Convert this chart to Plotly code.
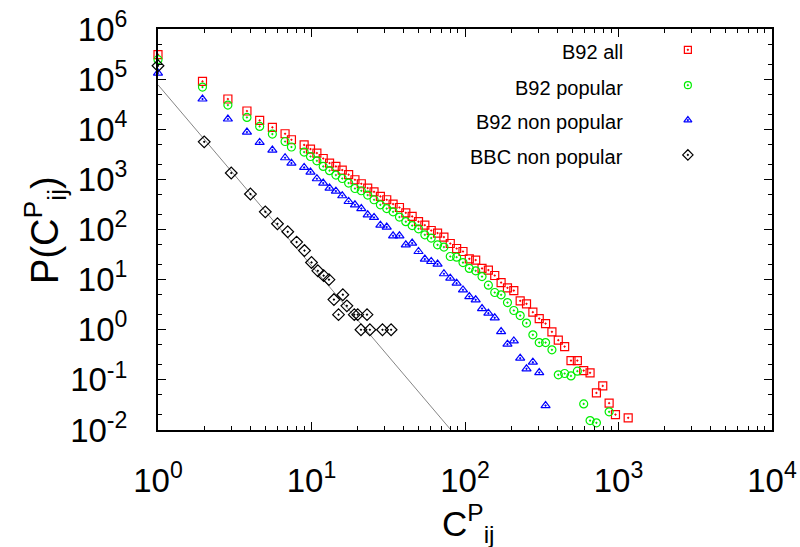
import plotly.graph_objects as go

# ---- data ----
x_b92 = [1, 1.949, 2.853, 3.797, 4.595, 5.560, 6.727, 7.400, 8.954, 9.850,
         10.84, 11.92, 13.11, 14.42, 15.86, 17.45, 19.19, 21.11, 23.23, 25.55,
         28.10, 30.91, 34.00, 37.40, 41.15, 45.26, 49.79, 54.76, 60.24, 66.26,
         72.89, 80.18, 88.20, 97.02, 106.7, 117.4, 129.1, 142.0, 156.2, 171.9,
         189.1, 208.0, 228.8, 251.6, 276.8, 304.5, 334.9, 368.4, 405.3, 445.8,
         490.4, 539.4, 593.4, 652.7, 718.0, 789.7, 868.7, 955.6, 1156.3]

y_all = [3.07e5, 9.0e4, 4.01e4, 2.31e4, 1.50e4, 1.09e4, 8130, 6170, 4860, 4030,
         3350, 2610, 2110, 1810, 1530, 1240, 982, 817, 670, 565,
         456, 392, 321, 275, 215, 182, 143, 122, 95.5, 84.7,
         70.5, 52.6, 41.8, 36.4, 26.0, 24.5, 16.7, 15.5, 12.1, 8.75,
         6.85, 6.05, 3.78, 3.29, 2.24, 1.67, 1.33, 0.908, 0.619, 0.462,
         0.243, 0.243, 0.153, 0.138, 0.0550, 0.0759, 0.0343, 0.0203, 0.0175]

x_pop = x_b92[:57]
y_pop = [2.44e5, 6.95e4, 3.04e4, 1.72e4, 1.14e4, 8020, 5700, 4420, 3510, 2860,
         2350, 1810, 1490, 1220, 1040, 843, 658, 593, 486, 392,
         311, 262, 225, 177, 143, 120, 103, 78.3, 67.3, 49.5,
         44.6, 28.9, 28.1, 21.9, 16.7, 15.0, 11.5, 7.76, 5.53, 4.98,
         3.49, 2.42, 1.92, 1.36, 0.791, 0.556, 0.556, 0.397, 0.126, 0.134,
         0.120, 0.149, 0.0332, 0.0154, 0.0139, None, 0.0230]

x_non = x_b92[:50]
y_non = [1.32e5, 4.01e4, 1.60e4, 8790, 5460, 3850, 2700, 2110, 1730, 1400,
         1030, 843, 670, 583, 471, 362, 311, 262, 196, 174,
         122, 112, 74.8, 74.8, 49.5, 53.6, 36.4, 25.7, 23.0, 20.4,
         13.1, 10.7, 8.51, 6.25, 4.60, 3.95, 2.65, 2.14, 1.73, 0.920,
         0.516, 0.600, 0.271, 0.166, 0.225, 0.140, 0.0307, None, None, None]

x_bbc = [1, 2, 3, 4, 5, 6, 7, 8, 9, 10, 11, 12, 13, 14, 15, 16, 17, 19, 20,
         21, 23, 24, 29, 33]
y_bbc = [1.85e5, 5600, 1340, 510, 225, 130, 90, 56, 38, 22, 15, 12, 10, 4, 2,
         5, 3, 2, 2, 1, 2, 1, 1, 1]

fit_x = [1, 81]
fit_y = [7.7e4, 1e-2]

names = ["B92 all", "B92 popular", "B92 non popular", "BBC non popular"]
colors = ["#ff0000", "#00ee00", "#0000ff", "#000000"]
symbols = ["square-open-dot", "circle-open-dot", "triangle-up-open-dot",
           "diamond-open-dot"]
sizes = [8, 8, 8, 9]

FONT = "Liberation Sans, Arial, Helvetica, sans-serif"

fig = go.Figure()

series = [(x_b92, y_all), (x_pop, y_pop), (x_non, y_non)]
for i, (xs, ys) in enumerate(series):
    fig.add_trace(go.Scatter(
        x=xs, y=ys, mode="markers", name=names[i], showlegend=False,
        cliponaxis=False,
        marker=dict(symbol=symbols[i], size=sizes[i], color=colors[i],
                    line=dict(width=1.2, color=colors[i]))))

fig.add_trace(go.Scatter(x=fit_x, y=fit_y, mode="lines", showlegend=False,
                         line=dict(color="#666666", width=0.8)))
fig.add_trace(go.Scatter(
    x=x_bbc, y=y_bbc, mode="markers", name=names[3], showlegend=False,
    cliponaxis=False,
    marker=dict(symbol=symbols[3], size=sizes[3], color=colors[3],
                line=dict(width=1.2, color=colors[3]))))

# manual legend (text left of symbol, as in the reference)
leg_y = [0.948, 0.860, 0.773, 0.686]
for i in range(4):
    fig.add_trace(go.Scatter(
        x=[0.863], y=[leg_y[i]], xaxis="x2", yaxis="y2", mode="markers",
        showlegend=False, cliponaxis=False, hoverinfo="skip",
        marker=dict(symbol=symbols[i], size=sizes[i] - 1, color=colors[i],
                    line=dict(width=1.2, color=colors[i]))))
    fig.add_annotation(x=0.760, y=leg_y[i] - 0.006, xref="paper", yref="paper",
                       text=names[i], showarrow=False, xanchor="right",
                       yanchor="middle",
                       font=dict(family=FONT, size=20, color="black"))

# axis titles
fig.add_annotation(x=0.505, y=-0.232, xref="paper", yref="paper",
                   text="C<sup>P</sup><sub>ij</sub>", showarrow=False,
                   xanchor="center", yanchor="middle",
                   font=dict(family=FONT, size=35, color="black"))
fig.add_annotation(x=-0.185, y=0.5, xref="paper", yref="paper",
                   text="P(C<sup>P</sup><sub>ij</sub>)", showarrow=False,
                   xanchor="center", yanchor="middle", textangle=-90,
                   font=dict(family=FONT, size=38, color="black"))

xt = [1, 10, 100, 1000, 10000]
xt_text = ["10<sup>0</sup>", "10<sup>1</sup>", "10<sup>2</sup>", "10<sup>3</sup>",
           "10<sup>4</sup>"]
yt = [1e-2, 1e-1, 1, 10, 100, 1e3, 1e4, 1e5, 1e6]
yt_text = ["10<sup>-2</sup>", "10<sup>-1</sup>", "10<sup>0</sup>", "10<sup>1</sup>",
           "10<sup>2</sup>", "10<sup>3</sup>", "10<sup>4</sup>", "10<sup>5</sup>",
           "10<sup>6</sup>"]

axis_common = dict(showgrid=False, zeroline=False, showline=True, linewidth=2,
                   linecolor="black", mirror="ticks", ticks="inside",
                   ticklen=8, tickwidth=1, tickcolor="black", automargin=False,
                   tickfont=dict(family=FONT, size=33, color="black"))

fig.update_layout(
    width=800, height=547,
    margin=dict(l=158, r=28, t=29, b=117),
    paper_bgcolor="white", plot_bgcolor="white",
    font=dict(family=FONT, color="black"),
    xaxis=dict(type="log", range=[0, 4], tickvals=xt, ticktext=xt_text,
               minor=dict(ticks="inside", ticklen=4, dtick="D1",
                          tickcolor="black", showgrid=False),
               ticklabelstandoff=20,
               **axis_common),
    yaxis=dict(type="log", range=[-2, 6], tickvals=yt, ticktext=yt_text,
               minor=dict(ticks="inside", ticklen=4, dtick="D2",
                          tickcolor="black", showgrid=False),
               ticklabelstandoff=22,
               **axis_common),
    xaxis2=dict(overlaying="x", range=[0, 1], visible=False, fixedrange=True),
    yaxis2=dict(overlaying="y", range=[0, 1], visible=False, fixedrange=True),
)

fig.write_html("out.html")
